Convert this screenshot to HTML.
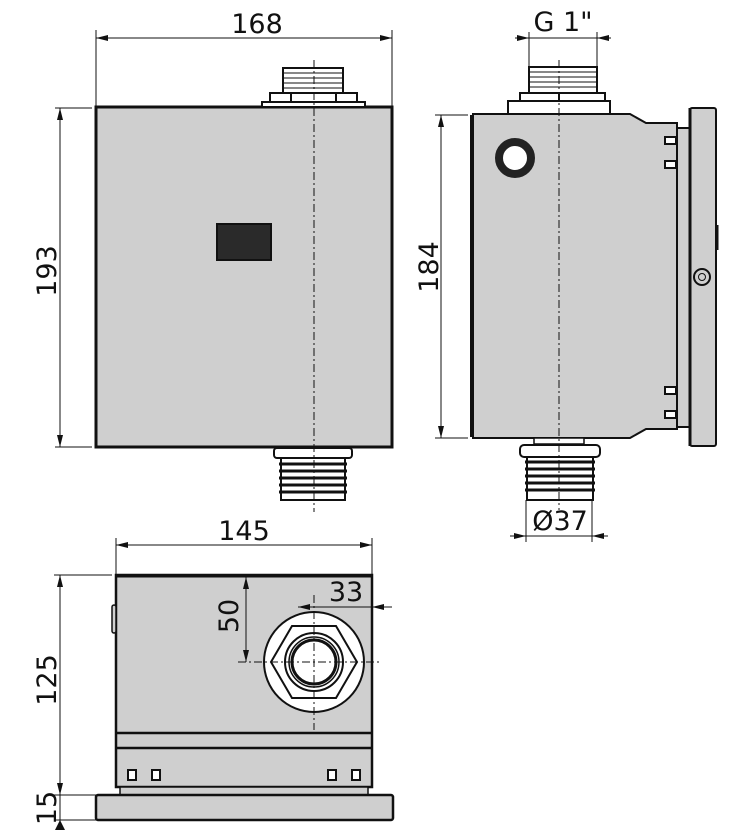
<!DOCTYPE html>
<html><head><meta charset="utf-8"><style>
html,body{margin:0;padding:0;background:#fff;}
svg{display:block}
text{font-family:"DejaVu Sans","Liberation Sans",sans-serif;font-size:27px;fill:#111}
</style></head><body>
<svg width="743" height="830" viewBox="0 0 743 830" xmlns="http://www.w3.org/2000/svg">
<defs>
<marker id="a" viewBox="0 0 12 6" refX="12" refY="3" markerWidth="12" markerHeight="6" orient="auto-start-reverse" markerUnits="userSpaceOnUse"><path d="M0,0 L12,3 L0,6z" fill="#111"/></marker>
</defs>
<g stroke="#111" fill="none">
<!-- ===== FRONT VIEW ===== -->
<rect x="96" y="107" width="296" height="340" fill="#cfcfcf" stroke-width="3"/>
<rect x="262" y="102" width="103" height="5" fill="#fff" stroke-width="2"/>
<rect x="270" y="93" width="87" height="9" fill="#fff" stroke-width="2"/>
<line x1="291" y1="93" x2="291" y2="102" stroke-width="2"/><line x1="336" y1="93" x2="336" y2="102" stroke-width="2"/>
<rect x="283" y="68" width="60" height="25" fill="#fff" stroke-width="2"/>
<path d="M283,73h60M283,78h60M283,83h60M283,88h60" stroke-width="1"/>
<rect x="217" y="224" width="54" height="36" fill="#2a2a2a" stroke-width="2"/>
<rect x="274" y="448" width="78" height="10" rx="3" fill="#fff" stroke-width="2"/>
<rect x="281" y="458" width="64" height="42" fill="#fff" stroke-width="2"/>
<path d="M279,464h68M279,471h68M279,478h68M279,485h68M279,492h68" stroke-width="3"/>
<line x1="314" y1="60" x2="314" y2="512" stroke-width="1" stroke-dasharray="8,3,2,3"/>
<!-- dims 168 -->
<line x1="96" y1="30" x2="96" y2="107" stroke-width="1"/><line x1="392" y1="30" x2="392" y2="107" stroke-width="1"/>
<line x1="96" y1="38" x2="392" y2="38" stroke-width="1" marker-start="url(#a)" marker-end="url(#a)"/>
<!-- 193 -->
<line x1="55" y1="108" x2="92" y2="108" stroke-width="1"/><line x1="55" y1="447" x2="92" y2="447" stroke-width="1"/>
<line x1="60" y1="108" x2="60" y2="447" stroke-width="1" marker-start="url(#a)" marker-end="url(#a)"/>

<!-- ===== SIDE VIEW ===== -->
<path d="M473,114 H630 L646,123 H677 V429 H646 L630,438 H473 Z" fill="#cfcfcf" stroke-width="2"/>
<line x1="472" y1="115" x2="472" y2="437" stroke-width="4"/>
<rect x="677" y="128" width="13" height="299" fill="#cfcfcf" stroke-width="2"/>
<rect x="690" y="108" width="26" height="338" rx="2" fill="#cfcfcf" stroke-width="2"/>
<line x1="690" y1="108" x2="690" y2="446" stroke-width="3"/>
<line x1="717" y1="225" x2="717" y2="250" stroke-width="3"/>
<circle cx="515" cy="158" r="16" fill="#fff" stroke="#222" stroke-width="8"/>
<circle cx="702" cy="277" r="8" fill="#cfcfcf" stroke-width="2"/><circle cx="702" cy="277" r="3.5" stroke-width="1"/>
<rect x="665" y="137" width="11" height="7" fill="#fff" stroke-width="2"/>
<rect x="665" y="161" width="11" height="7" fill="#fff" stroke-width="2"/>
<rect x="665" y="387" width="11" height="7" fill="#fff" stroke-width="2"/>
<rect x="665" y="411" width="11" height="7" fill="#fff" stroke-width="2"/>
<rect x="508" y="101" width="102" height="13" fill="#fff" stroke-width="2"/>
<rect x="520" y="93" width="85" height="8" fill="#fff" stroke-width="2"/>
<line x1="559" y1="93" x2="559" y2="101" stroke-width="2"/>
<rect x="529" y="67" width="68" height="26" fill="#fff" stroke-width="2"/>
<path d="M529,72h68M529,77h68M529,82h68M529,87h68" stroke-width="1"/>
<line x1="529" y1="32" x2="529" y2="67" stroke-width="1"/><line x1="597" y1="32" x2="597" y2="67" stroke-width="1"/>
<line x1="515" y1="38" x2="529" y2="38" stroke-width="1" marker-end="url(#a)"/>
<line x1="611" y1="38" x2="597" y2="38" stroke-width="1" marker-end="url(#a)"/>
<line x1="529" y1="38" x2="597" y2="38" stroke-width="1"/>
<rect x="534" y="438" width="50" height="6" fill="#fff" stroke-width="1.5"/>
<rect x="520" y="445" width="80" height="12" rx="4" fill="#fff" stroke-width="2"/>
<rect x="527" y="457" width="66" height="43" fill="#fff" stroke-width="2"/>
<path d="M525,462h70M525,469h70M525,476h70M525,483h70M525,490h70" stroke-width="3"/>
<line x1="559" y1="60" x2="559" y2="510" stroke-width="1" stroke-dasharray="8,3,2,3"/>
<!-- 184 -->
<line x1="435" y1="115" x2="468" y2="115" stroke-width="1"/><line x1="435" y1="438" x2="468" y2="438" stroke-width="1"/>
<line x1="441" y1="115" x2="441" y2="438" stroke-width="1" marker-start="url(#a)" marker-end="url(#a)"/>
<!-- Ø37 -->
<line x1="526" y1="500" x2="526" y2="542" stroke-width="1"/><line x1="592" y1="500" x2="592" y2="542" stroke-width="1"/>
<line x1="510" y1="536" x2="526" y2="536" stroke-width="1" marker-end="url(#a)"/>
<line x1="608" y1="536" x2="592" y2="536" stroke-width="1" marker-end="url(#a)"/>
<line x1="526" y1="536" x2="592" y2="536" stroke-width="1"/>

<!-- ===== BOTTOM VIEW ===== -->
<rect x="116" y="575" width="256" height="212" fill="#cfcfcf" stroke-width="2.5"/>
<line x1="116" y1="576" x2="372" y2="576" stroke-width="3"/>
<rect x="112" y="605" width="4" height="28" rx="2" fill="#cfcfcf" stroke-width="1.5"/>
<line x1="116" y1="733" x2="372" y2="733" stroke-width="2.5"/>
<line x1="116" y1="748" x2="372" y2="748" stroke-width="2.5"/>
<line x1="120" y1="787" x2="368" y2="787" stroke-width="2"/>
<rect x="120" y="787" width="248" height="8" fill="#cfcfcf" stroke-width="1.5"/>
<rect x="96" y="795" width="297" height="25" rx="2" fill="#cfcfcf" stroke-width="2.5"/>
<rect x="128" y="770" width="8" height="10" fill="#fff" stroke-width="2"/>
<rect x="152" y="770" width="8" height="10" fill="#fff" stroke-width="2"/>
<rect x="328" y="770" width="8" height="10" fill="#fff" stroke-width="2"/>
<rect x="352" y="770" width="8" height="10" fill="#fff" stroke-width="2"/>
<circle cx="314" cy="662" r="50" fill="#fff" stroke-width="2"/>
<polygon points="271,662 292,626 336,626 357,662 336,698 292,698" fill="#fff" stroke-width="2"/>
<circle cx="314" cy="662" r="29" stroke-width="2"/>
<circle cx="314" cy="662" r="25" stroke-width="1.5"/>
<circle cx="314" cy="662" r="22" stroke-width="3"/>
<line x1="314" y1="595" x2="314" y2="730" stroke-width="1" stroke-dasharray="8,3,2,3"/>
<line x1="238" y1="662" x2="380" y2="662" stroke-width="1" stroke-dasharray="8,3,2,3"/>
<!-- 145 -->
<line x1="116" y1="538" x2="116" y2="575" stroke-width="1"/><line x1="372" y1="538" x2="372" y2="575" stroke-width="1"/>
<line x1="116" y1="545" x2="372" y2="545" stroke-width="1" marker-start="url(#a)" marker-end="url(#a)"/>
<!-- 125 / 15 -->
<line x1="54" y1="575" x2="112" y2="575" stroke-width="1"/>
<line x1="54" y1="795" x2="96" y2="795" stroke-width="1"/>
<line x1="54" y1="820" x2="96" y2="820" stroke-width="1"/>
<line x1="60" y1="575" x2="60" y2="795" stroke-width="1" marker-start="url(#a)" marker-end="url(#a)"/>
<line x1="60" y1="795" x2="60" y2="830" stroke-width="1"/>
<path d="M55,830 L60,820 L65,830z" fill="#111" stroke="none"/>
<!-- 50 -->
<line x1="246" y1="577" x2="246" y2="662" stroke-width="1" marker-start="url(#a)" marker-end="url(#a)"/>
<!-- 33 -->
<line x1="298" y1="607" x2="314" y2="607" stroke-width="1" marker-start="url(#a)"/>
<line x1="314" y1="607" x2="388" y2="607" stroke-width="1"/>
<line x1="392" y1="607" x2="372" y2="607" stroke-width="1" marker-end="url(#a)"/>
</g>
<g>
<text x="257" y="33" text-anchor="middle">168</text>
<text x="563" y="31" text-anchor="middle">G 1"</text>
<text x="560" y="530" text-anchor="middle">Ø37</text>
<text x="244" y="540" text-anchor="middle">145</text>
<text x="346" y="601" text-anchor="middle">33</text>
<text transform="translate(56,271) rotate(-90)" text-anchor="middle">193</text>
<text transform="translate(438,267) rotate(-90)" text-anchor="middle">184</text>
<text transform="translate(56,680) rotate(-90)" text-anchor="middle">125</text>
<text transform="translate(56,808) rotate(-90)" text-anchor="middle">15</text>
<text transform="translate(238,616) rotate(-90)" text-anchor="middle">50</text>
</g>
</svg>
</body></html>
